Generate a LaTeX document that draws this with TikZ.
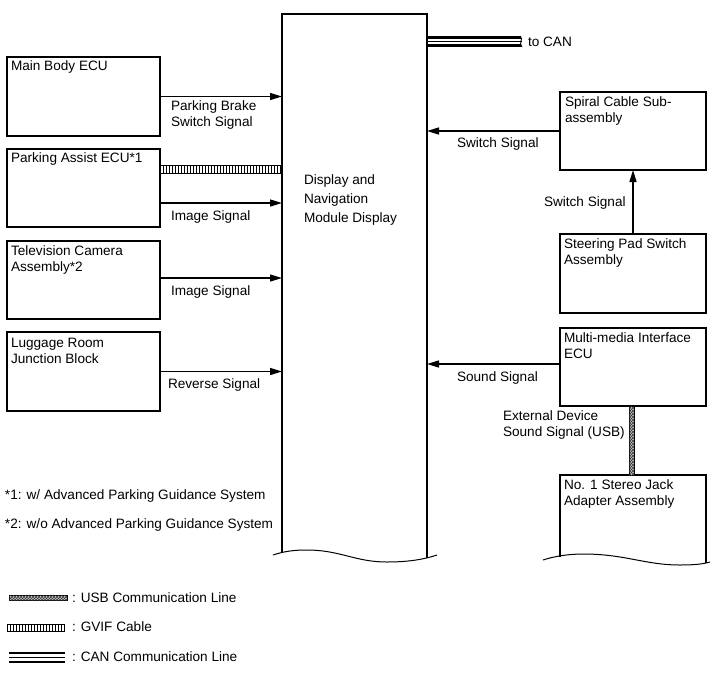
\documentclass[tikz,border=0pt]{standalone}
\usepackage{fontspec}
\setmainfont{Liberation Sans}
\usetikzlibrary{arrows.meta,patterns}
\begin{document}
\begin{tikzpicture}[x=1pt,y=-1pt,
  font=\fontsize{13.6}{16}\selectfont,
  box/.style={draw,line width=1.5pt,inner sep=0pt,outer sep=0pt,anchor=north west},
  ghost/.style={inner sep=0pt,outer sep=0pt,anchor=north west},
  txt/.style={anchor=north west,inner sep=0pt,outer sep=0pt,align=left},
  arr/.style={line width=1.4pt,-{Triangle[length=12pt,width=7pt]}},
  usb/.style={draw,line width=0.5pt,fill=gray!45,postaction={pattern=crosshatch,pattern color=black!80}},
  gvif/.style={draw,line width=0.6pt},
  canthick/.style={line width=2.2pt},
  canthin/.style={line width=1.2pt},
  cut/.style={line width=1pt},
  ]
\useasboundingbox (0,0) rectangle (713,681);

% central module
\node[ghost,minimum width=145pt,minimum height=540pt] (dnm) at (282,14) {};
\draw[line width=1.5pt] (282,553) -- (dnm.north west) -- (dnm.north east) -- (427,558);
\draw[cut] (273,555) .. controls (285,551) and (295,550) .. (307,550)
  .. controls (340,550) and (355,562) .. (387,562)
  .. controls (410,562) and (425,559) .. (437,555);
\node[txt,font=\fontsize{13.6}{19}\selectfont] (dnmt) at (304,175) {Display and\\Navigation\\Module Display};

% left boxes
\node[box,minimum width=153pt,minimum height=79pt] (mb) at (7,57) {};
\node[txt] (mbt) at ([shift={(4pt,-4pt)}]mb.north west) {Main Body ECU};
\node[box,minimum width=153pt,minimum height=78pt] (pa) at (7,149) {};
\node[txt] (pat) at ([shift={(4pt,-4pt)}]pa.north west) {Parking Assist ECU*1};
\node[box,minimum width=153pt,minimum height=78pt] (tv) at (7,241) {};
\node[txt] (tvt) at ([shift={(4pt,-5pt)}]tv.north west) {Television Camera\\Assembly*2};
\node[box,minimum width=153pt,minimum height=79pt] (lr) at (7,332) {};
\node[txt] (lrt) at ([shift={(4pt,-6pt)}]lr.north west) {Luggage Room\\Junction Block};

% right boxes
\node[box,minimum width=146pt,minimum height=78pt] (sc) at (560,92) {};
\node[txt] (sct) at ([shift={(5pt,-5pt)}]sc.north west) {Spiral Cable Sub-\\assembly};
\node[box,minimum width=146pt,minimum height=79pt] (sp) at (560,234) {};
\node[txt] (spt) at ([shift={(4pt,-5pt)}]sp.north west) {Steering Pad Switch\\Assembly};
\node[box,minimum width=146pt,minimum height=78pt] (mm) at (560,328) {};
\node[txt] (mmt) at ([shift={(4pt,-5pt)}]mm.north west) {Multi-media Interface\\ECU};
\node[ghost,minimum width=146pt,minimum height=85pt] (sj) at (560,475) {};
\draw[line width=1.5pt] (560,557) -- (sj.north west) -- (sj.north east) -- (706,563);
\draw[cut] (543,560) .. controls (555,556) and (570,554) .. (583,554)
  .. controls (625,554) and (645,565) .. (680,565)
  .. controls (695,565) and (703,564) .. (710,562);
\node[txt] (sjt) at ([shift={(4pt,-5pt)}]sj.north west) {No. 1 Stereo Jack\\Adapter Assembly};

% left connectors
\draw[arr] (mb.east) -- (mb.east -| dnm.west);
\node[txt] (l1) at (171,101) {Parking Brake\\Switch Signal};

\draw[gvif] (160,165) rectangle (282,173);
\foreach \x in {163,166,...,280} \draw[line width=0.6pt] (\x,165) -- (\x,173);

\path ([yshift=-15pt]pa.east) coordinate (pa1);
\draw[arr] (pa1) -- (pa1 -| dnm.west);
\node[txt] (l2) at (171,211) {Image Signal};

\path ([yshift=2pt]tv.east) coordinate (tv1);
\draw[arr] (tv1) -- (tv1 -| dnm.west);
\node[txt] (l3) at (171,286) {Image Signal};

\draw[arr] (lr.east) -- (lr.east -| dnm.west);
\node[txt] (l4) at (168,379) {Reverse Signal};

% right connectors
\draw[arr] (sc.west) -- (sc.west -| dnm.east);
\node[txt] (r1) at (457,138) {Switch Signal};

\draw[arr] (sp.north) -- (sc.south);
\node[txt] (r2) at (544,197) {Switch Signal};

\path ([yshift=3pt]mm.west) coordinate (mm1);
\draw[arr] (mm1) -- (mm1 -| dnm.east);
\node[txt] (r3) at (457,372) {Sound Signal};

\draw[usb] ([xshift=-4pt]mm.south) rectangle ([xshift=1pt]sj.north);
\node[txt] (r4) at (503,411) {External Device\\Sound Signal (USB)};

% CAN line
\draw[canthick] (dnm.north east |- 0,37.5) -- (521,37.5);
\draw[canthin] (dnm.north east |- 0,41.5) -- (522,41.5);
\draw[canthick] (dnm.north east |- 0,45.5) -- (521,45.5);
\draw[line width=0.9pt] (520,36) .. controls (524,39) and (518,43) .. (522,47);
\node[txt] (cant) at (528,37) {to CAN};

% notes
\node[txt] (n1) at (5,490) {*1: w/ Advanced Parking Guidance System};
\node[txt] (n2) at (5,519) {*2: w/o Advanced Parking Guidance System};

% legend
\draw[usb] (9,595) rectangle (67,600);
\node[txt] (k1) at (72,592.5) {: USB Communication Line};
\draw[gvif] (7,624) rectangle (64,631);
\foreach \x in {10,13,...,62} \draw[line width=0.6pt] (\x,624) -- (\x,631);
\node[txt] (k2) at (72,621.5) {: GVIF Cable};
\draw[canthick] (9,653) -- (65,653);
\draw[canthin] (9,657.5) -- (65,657.5);
\draw[canthick] (9,662) -- (65,662);
\node[txt] (k3) at (72,651.5) {: CAN Communication Line};
\end{tikzpicture}
\end{document}
